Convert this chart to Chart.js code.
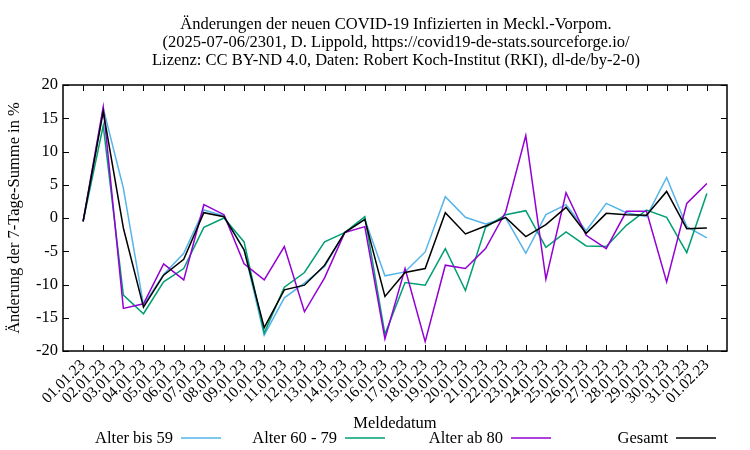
<!DOCTYPE html>
<html>
<head>
<meta charset="utf-8">
<script src="https://cdn.jsdelivr.net/npm/chart.js@4.4.0/dist/chart.umd.min.js"></script>
<style>
  html, body { margin: 0; padding: 0; background: #fff; }
  #wrap { width: 750px; height: 450px; }
</style>
</head>
<body>
<div id="wrap"><canvas id="chart" width="750" height="450"></canvas></div>
<script>
const dates = ['01.01.23','02.01.23','03.01.23','04.01.23','05.01.23','06.01.23','07.01.23','08.01.23',
  '09.01.23','10.01.23','11.01.23','12.01.23','13.01.23','14.01.23','15.01.23','16.01.23','17.01.23',
  '18.01.23','19.01.23','20.01.23','21.01.23','22.01.23','23.01.23','24.01.23','25.01.23','26.01.23',
  '27.01.23','28.01.23','29.01.23','30.01.23','31.01.23','01.02.23'];

const bis59 = [-0.5, 16.5, 4.5, -13.1, -8.5, -5.3, 1.2, 0.3, -4.8, -17.6, -12.0, -9.8, -7.3, -2.2, -0.2, -8.7,
  -8.1, -5.1, 3.2, 0.1, -0.9, 0.0, -5.3, 0.5, 2.0, -1.9, 2.2, 0.8, 0.2, 6.1, -1.3, -3.0];
const alter6079 = [-0.5, 13.9, -11.6, -14.4, -9.6, -7.6, -1.4, 0.0, -3.6, -17.3, -10.4, -8.2, -3.6, -2.2, 0.2, -17.5,
  -9.7, -10.1, -4.6, -10.9, -1.4, 0.5, 1.1, -4.4, -2.1, -4.2, -4.3, -1.1, 1.2, 0.1, -5.2, 3.7];
const ab80 = [-0.5, 16.7, -13.6, -12.9, -6.9, -9.3, 2.0, 0.5, -6.9, -9.3, -4.3, -14.1, -9.0, -2.2, -1.3, -18.2,
  -7.6, -18.6, -7.1, -7.6, -4.6, 0.9, 12.4, -9.2, 3.8, -2.6, -4.6, 1.0, 1.0, -9.6, 2.2, 5.2];
const gesamt = [-0.5, 16.0, -1.5, -13.4, -8.6, -6.2, 0.8, 0.2, -4.8, -16.5, -10.8, -10.1, -7.1, -2.2, -0.2, -11.8,
  -8.2, -7.6, 0.8, -2.4, -1.2, 0.1, -2.8, -1.0, 1.6, -2.3, 0.7, 0.5, 0.4, 4.0, -1.6, -1.5];

const yTicks = [-20, -15, -10, -5, 0, 5, 10, 15, 20];

const titleLines = [
  'Änderungen der neuen COVID-19 Infizierten in Meckl.-Vorpom.',
  '(2025-07-06/2301, D. Lippold, https://covid19-de-stats.sourceforge.io/',
  'Lizenz: CC BY-ND 4.0, Daten: Robert Koch-Institut (RKI), dl-de/by-2-0)'
];
const yTitle = 'Änderung der 7-Tage-Summe in %';
const xTitle = 'Meldedatum';

const FONT = '"Liberation Serif", "DejaVu Serif", serif';

function pts(arr) { return arr.map((v, i) => ({ x: i, y: v })); }

function series(label, arr, color, order) {
  return { label: label, data: pts(arr), borderColor: color, backgroundColor: color,
    borderWidth: 1.5, pointRadius: 0, tension: 0, fill: false, order: order };
}

// gnuplot-like frame, inward ticks, titles and legend
const decor = {
  id: 'decor',
  afterDatasetsDraw(chart) {
    const ctx = chart.ctx, a = chart.chartArea;
    const xs = chart.scales.x, ys = chart.scales.y;
    ctx.save();
    ctx.strokeStyle = '#000';
    ctx.lineWidth = 1;
    ctx.beginPath();
    yTicks.forEach(v => {
      const y = Math.round(ys.getPixelForValue(v)) + 0.5;
      ctx.moveTo(a.left, y); ctx.lineTo(a.left + 6, y);
      ctx.moveTo(a.right, y); ctx.lineTo(a.right - 6, y);
    });
    dates.forEach((d, i) => {
      const x = Math.round(xs.getPixelForValue(i)) + 0.5;
      ctx.moveTo(x, a.bottom); ctx.lineTo(x, a.bottom - 6);
      ctx.moveTo(x, a.top); ctx.lineTo(x, a.top + 6);
    });
    ctx.stroke();
    ctx.lineWidth = 1.5;
    ctx.strokeRect(a.left, a.top, a.right - a.left, a.bottom - a.top);

    ctx.fillStyle = '#000';
    ctx.font = '16.5px ' + FONT;
    ctx.textAlign = 'center';
    ctx.textBaseline = 'middle';
    const cx = 396;
    titleLines.forEach((t, i) => ctx.fillText(t, cx, 25 + i * 18));
    ctx.fillText(xTitle, 395, 424);

    ctx.save();
    ctx.translate(15, (a.top + a.bottom) / 2);
    ctx.rotate(-Math.PI / 2);
    ctx.fillText(yTitle, 0, 0);
    ctx.restore();

    // legend: text then sample line
    const starts = [181, 345, 511, 676];
    ctx.textAlign = 'right';
    chart.data.datasets.forEach((ds, i) => {
      const x0 = starts[i], y = 439;
      ctx.fillStyle = '#000';
      ctx.fillText(ds.label, x0 - 8, y);
      ctx.strokeStyle = ds.borderColor;
      ctx.lineWidth = 1.5;
      ctx.beginPath();
      ctx.moveTo(x0, y - 1); ctx.lineTo(x0 + 40, y - 1);
      ctx.stroke();
    });
    ctx.restore();
  }
};

new Chart(document.getElementById('chart'), {
  type: 'line',
  data: {
    datasets: [
      series('Alter bis 59', bis59, '#56b4e9', 4),
      series('Alter 60 - 79', alter6079, '#009e73', 3),
      series('Alter ab 80', ab80, '#9400d3', 2),
      series('Gesamt', gesamt, '#000000', 1)
    ]
  },
  options: {
    responsive: false,
    animation: false,
    layout: { padding: { top: 85, right: 23, left: 0, bottom: 0 } },
    plugins: { legend: { display: false }, title: { display: false }, tooltip: { enabled: false } },
    scales: {
      x: {
        type: 'linear',
        min: -1,
        max: 32,
        afterFit(s) { s.height = 99; },
        afterBuildTicks(s) { s.ticks = dates.map((d, i) => ({ value: i })); },
        grid: { display: false, drawTicks: false },
        border: { display: false },
        ticks: {
          autoSkip: false,
          maxRotation: 45,
          minRotation: 45,
          padding: 5,
          color: '#000',
          font: { family: FONT, size: 15.5 },
          callback: v => dates[v] || ''
        }
      },
      y: {
        min: -20,
        max: 20,
        afterFit(s) { s.width = 63; },
        afterBuildTicks(s) { s.ticks = yTicks.map(v => ({ value: v })); },
        grid: { display: false, drawTicks: false },
        border: { display: false },
        ticks: {
          padding: 5,
          color: '#000',
          font: { family: FONT, size: 16.5 }
        }
      }
    }
  },
  plugins: [decor]
});
</script>
</body>
</html>
